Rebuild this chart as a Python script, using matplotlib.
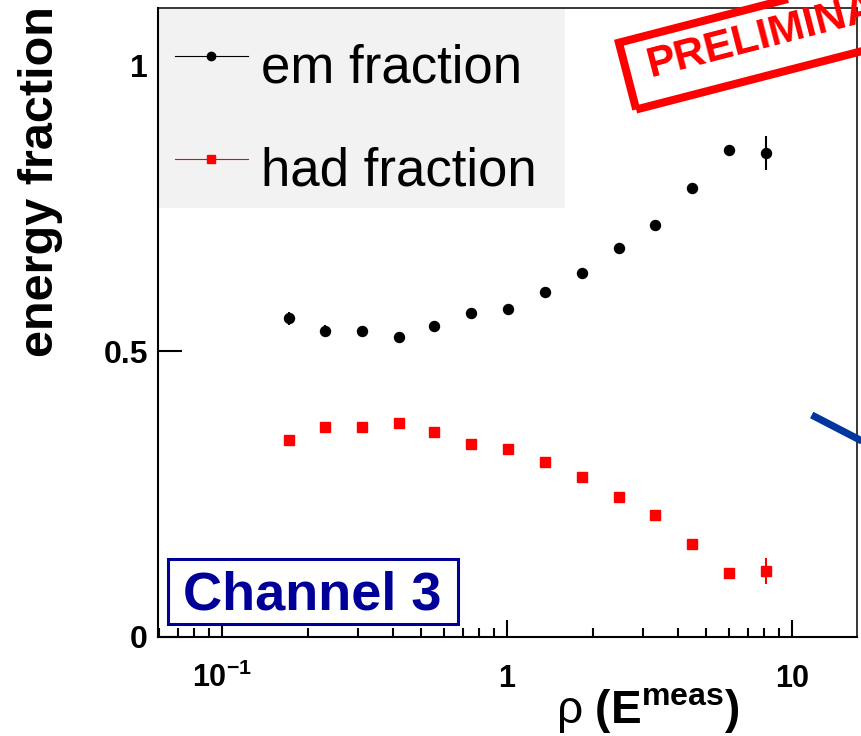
import matplotlib
matplotlib.use('Agg')
import matplotlib.pyplot as plt
import matplotlib.transforms as mtransforms
from matplotlib.patches import Rectangle
from matplotlib.lines import Line2D
from matplotlib.ticker import LogLocator, NullFormatter, NullLocator

plt.rcParams['font.family'] = 'Liberation Sans'
plt.rcParams['mathtext.fontset'] = 'custom'
plt.rcParams['mathtext.rm'] = 'Liberation Sans'
plt.rcParams['mathtext.it'] = 'Liberation Sans:italic'
plt.rcParams['mathtext.bf'] = 'Liberation Sans:bold'

# bin centres in rho(E^meas)
rho = [0.1715, 0.2294, 0.3093, 0.4170, 0.5577, 0.7518, 1.014,
       1.361, 1.835, 2.475, 3.324, 4.473, 6.031, 8.091]
# electromagnetic fraction
em_frac = [0.557, 0.536, 0.536, 0.525, 0.544, 0.567, 0.573,
           0.604, 0.636, 0.681, 0.720, 0.786, 0.851, 0.847]
em_err = [0.012, 0.010, 0.008, 0.006, 0.006, 0.005, 0.005,
          0.005, 0.005, 0.005, 0.006, 0.007, 0.009, 0.030]
# hadronic fraction
had_frac = [0.344, 0.367, 0.367, 0.374, 0.358, 0.337, 0.329,
            0.306, 0.279, 0.244, 0.213, 0.163, 0.112, 0.116]
had_err = [0.010, 0.008, 0.007, 0.006, 0.006, 0.005, 0.005,
           0.005, 0.005, 0.005, 0.006, 0.007, 0.009, 0.023]

xticks = [0.1, 1, 10]
xticklabels = [r'$\mathbf{10^{-1}}$', '1', '10']
yticks = [0, 0.5, 1]
yticklabels = ['0', '0.5', '1']

W, H = 861, 736
fig = plt.figure(figsize=(W / 100, H / 100), dpi=100)
ax = fig.add_axes([157.5 / W, 99 / H, 699.5 / W, 629 / H])
ax.set_xscale('log')
ax.set_xlim(0.0595, 16.94)
ax.set_ylim(0, 1.1)

ax.errorbar(rho, em_frac, yerr=em_err, fmt='o', color='black', ms=7.2,
            elinewidth=1.5, capsize=0, zorder=4)
ax.errorbar(rho, had_frac, yerr=had_err, fmt='s', color='#ff0000', ms=6.8,
            mec='#ff0000', elinewidth=1.5, capsize=0, zorder=4)

# axes, ROOT style ticks
ax.set_xticks(xticks)
ax.set_xticklabels(xticklabels)
ax.xaxis.set_minor_locator(LogLocator(subs=range(2, 10)))
ax.xaxis.set_minor_formatter(NullFormatter())
ax.set_yticks(yticks)
ax.set_yticklabels(yticklabels)
ax.yaxis.set_minor_locator(NullLocator())
ax.tick_params(axis='x', which='major', direction='in', length=12.2, width=1.5,
               top=False, pad=36, labelsize=22)
ax.tick_params(axis='x', which='minor', direction='in', length=6.5, width=1.5, top=False)
ax.tick_params(axis='y', which='major', direction='in', length=17.3, width=1.5,
               right=False, pad=6.8, labelsize=23)
for lab in ax.get_xticklabels() + ax.get_yticklabels():
    lab.set_fontweight('bold')
for t in ax.xaxis.get_major_ticks():
    t.label1.set_verticalalignment('baseline')

for side in ['left', 'bottom']:
    ax.spines[side].set_linewidth(1.5)
for side in ['top', 'right']:
    ax.spines[side].set_linewidth(1.1)
for sp in ax.spines.values():
    sp.set_zorder(3)

# legend background
ax.add_patch(Rectangle((1.5 / 699.5, (637 - 208) / 629), (565 - 159) / 699.5, 199 / 629,
                       transform=ax.transAxes, facecolor='#f2f2f2', lw=0, zorder=2.6))
handles = [Line2D([], [], color='black', lw=0.8, marker='o', ms=6),
           Line2D([], [], color='#ff0000', lw=0.8, marker='s', ms=6)]
ax.legend(handles, ['em fraction', 'had fraction'], loc='upper left',
          bbox_to_anchor=(175 / W, 706 / H), bbox_transform=fig.transFigure,
          frameon=False, borderpad=0, borderaxespad=0, handlelength=1.38,
          handleheight=1.7, handletextpad=0.25, labelspacing=0.6,
          prop={'family': 'Liberation Sans', 'size': 38})

# channel label
ax.add_patch(Rectangle((10 / 699.5, 13.5 / 629), 290 / 699.5, 65 / 629,
                       transform=ax.transAxes, facecolor='white', edgecolor='#000099',
                       lw=2.2, zorder=2))
fig.text(312.5 / W, 126 / H, 'Channel 3', ha='center', va='baseline',
         color='#000099', fontsize=39, fontweight='bold')

# axis titles
fig.text(18 / W, 730 / H, 'energy fraction', rotation=90, ha='left', va='top',
         fontsize=35, fontweight='bold')
fig.text(556 / W, 13 / H, r'ρ $\mathbf{(E^{meas})}$', ha='left', va='baseline',
         fontsize=33)

# preliminary stamp
ang = 14.5
stamp_tr = mtransforms.Affine2D().rotate_deg(ang).translate(636.2, 626.5)
fig.add_artist(Rectangle((0, 0), 420, 69, transform=stamp_tr, fill=False,
                         edgecolor='#ff0000', lw=5.8, joinstyle='miter'))
fig.text(650.5, 659, 'PRELIMINARY', transform=mtransforms.IdentityTransform(),
         rotation=ang, rotation_mode='anchor', ha='left', va='baseline',
         color='#ff0000', fontsize=31, fontweight='bold')

# arrow piece coming in from the neighbouring panel
fig.add_artist(Line2D([811.7, 900], [321, 275.3], transform=mtransforms.IdentityTransform(),
                      color='#00369e', lw=5.2, solid_capstyle='butt'))

fig.savefig('out.png', dpi=100)
